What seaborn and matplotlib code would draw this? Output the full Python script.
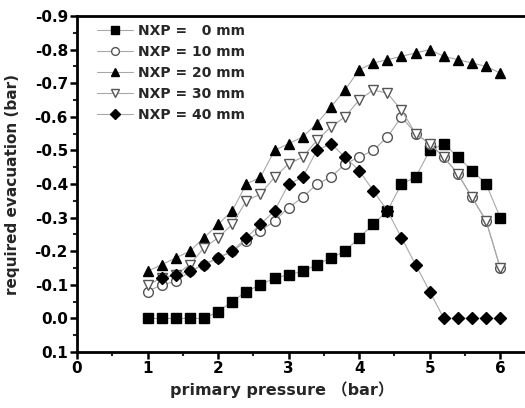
import numpy as np
import pandas as pd
import matplotlib
matplotlib.use("Agg")
import matplotlib.pyplot as plt
import seaborn as sns
from matplotlib.ticker import MultipleLocator, FixedLocator

sns.set_style("white")
plt.rcParams['font.family'] = ['DejaVu Sans', 'Noto Sans CJK SC']
plt.rcParams['axes.unicode_minus'] = False

pressure = [1.0, 1.2, 1.4, 1.6, 1.8, 2.0, 2.2, 2.4, 2.6, 2.8, 3.0, 3.2, 3.4,
            3.6, 3.8, 4.0, 4.2, 4.4, 4.6, 4.8, 5.0, 5.2, 5.4, 5.6, 5.8, 6.0]

nxp_0 = [0.0, 0.0, 0.0, 0.0, 0.0, -0.02, -0.05, -0.08, -0.10, -0.12, -0.13, -0.14, -0.16,
         -0.18, -0.20, -0.24, -0.28, -0.32, -0.40, -0.42, -0.50, -0.52, -0.48, -0.44, -0.40, -0.30]
nxp_10 = [-0.08, -0.10, -0.11, -0.14, -0.16, -0.18, -0.20, -0.23, -0.26, -0.29, -0.33, -0.36, -0.40,
          -0.42, -0.46, -0.48, -0.50, -0.54, -0.60, -0.55, -0.52, -0.48, -0.43, -0.36, -0.29, -0.15]
nxp_20 = [-0.14, -0.16, -0.18, -0.20, -0.24, -0.28, -0.32, -0.40, -0.42, -0.50, -0.52, -0.54, -0.58,
          -0.63, -0.68, -0.74, -0.76, -0.77, -0.78, -0.79, -0.80, -0.78, -0.77, -0.76, -0.75, -0.73]
nxp_30 = [-0.10, -0.12, -0.13, -0.16, -0.21, -0.24, -0.28, -0.35, -0.37, -0.42, -0.46, -0.48, -0.53,
          -0.57, -0.60, -0.65, -0.68, -0.67, -0.62, -0.55, -0.52, -0.48, -0.43, -0.36, -0.29, -0.15]
nxp_40 = [np.nan, -0.12, -0.13, -0.14, -0.16, -0.18, -0.20, -0.24, -0.28, -0.32, -0.40, -0.42, -0.50,
          -0.52, -0.48, -0.44, -0.38, -0.32, -0.24, -0.16, -0.08, 0.0, 0.0, 0.0, 0.0, 0.0]

labels = ["NXP =   0 mm", "NXP = 10 mm", "NXP = 20 mm", "NXP = 30 mm", "NXP = 40 mm"]
series = [nxp_0, nxp_10, nxp_20, nxp_30, nxp_40]
markers = ["s", "o", "^", "v", "D"]
faces = ["black", "white", "black", "white", "black"]
edges = ["black", "#555555", "black", "#555555", "black"]
msizes = [6.5, 7, 7, 7.5, 6]

y_ticks = [-0.9, -0.8, -0.7, -0.6, -0.5, -0.4, -0.3, -0.2, -0.1, 0.0, 0.1]
y_ticklabels = ["-0.9", "-0.8", "-0.7", "-0.6", "-0.5", "-0.4", "-0.3", "-0.2", "-0.1", "0.0", "0.1"]

fig = plt.figure(figsize=(5.25, 4.08), dpi=100)
ax = fig.add_axes([77 / 525, 1 - 352 / 408, 455 / 525, 336 / 408])

for vals, lab, mk, fc, ec, ms in zip(series, labels, markers, faces, edges, msizes):
    df = pd.DataFrame({"pressure": pressure, "evac": vals}).dropna()
    sns.lineplot(data=df, x="pressure", y="evac", ax=ax, color="#a8a8a8", lw=0.8,
                 marker=mk, markersize=ms, markerfacecolor=fc, markeredgecolor=ec,
                 markeredgewidth=1.0, label=lab, sort=False)

ax.set_xlim(0, 6.45)
ax.set_ylim(0.1, -0.9)
ax.xaxis.set_major_locator(FixedLocator([0, 1, 2, 3, 4, 5, 6]))
ax.xaxis.set_minor_locator(MultipleLocator(0.5))
ax.yaxis.set_major_locator(FixedLocator(y_ticks))
ax.set_yticklabels(y_ticklabels)
ax.yaxis.set_minor_locator(MultipleLocator(0.05))

ax.tick_params(axis="both", which="major", direction="out", length=5, width=1.8,
               labelsize=11, pad=1.5, colors="black")
ax.tick_params(axis="both", which="minor", direction="out", length=3, width=1.5)
ax.tick_params(bottom=True, left=True, which="both")
for lbl in ax.get_xticklabels() + ax.get_yticklabels():
    lbl.set_fontweight("bold")

for s in ["left", "bottom", "top"]:
    ax.spines[s].set_linewidth(2)
    ax.spines[s].set_color("black")
ax.spines["right"].set_visible(False)

ax.set_xlabel("primary pressure （bar）", fontsize=11.5, fontweight="bold")
ax.set_ylabel("required evacuation (bar)", fontsize=11, fontweight="bold")
ax.xaxis.set_label_coords(0.45, -0.088)
ax.yaxis.set_label_coords(-0.125, 0.5)

leg = ax.legend(loc="upper left", bbox_to_anchor=(0.02, 1.01), frameon=False,
                prop={"weight": "bold", "size": 10}, handlelength=2.6, markerscale=0.8,
                labelspacing=0.5, handletextpad=0.35, borderaxespad=0.4)

fig.savefig("out.png", dpi=100)
